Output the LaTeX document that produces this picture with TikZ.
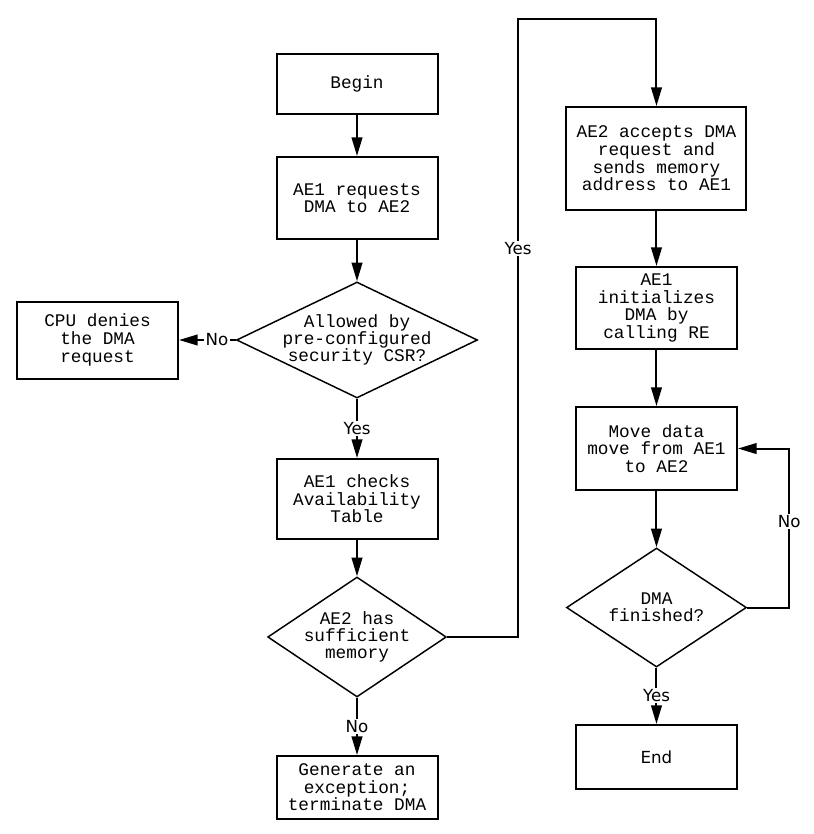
\documentclass[tikz,border=0pt]{standalone}
\usepackage{fontspec}
\setmainfont{DejaVu Sans}
\newfontfamily\monofont{Liberation Mono}
\usetikzlibrary{shapes.geometric,arrows.meta,positioning}

\tikzstyle{block}=[rectangle, draw=black, line width=1.5pt, align=center, inner sep=0pt,
  minimum width=120.75pt, font=\monofont\fontsize{13.3}{13.2}\selectfont]
\tikzstyle{decision}=[diamond, draw=black, line width=1.1pt, inner sep=0pt]
\tikzstyle{dtext}=[align=center, inner sep=0pt, font=\monofont\fontsize{13.3}{12.8}\selectfont]
\tikzstyle{line}=[line width=1.5pt, -{Triangle[length=14pt,width=8pt]}]
\tikzstyle{lbl}=[fill=white, inner sep=1pt, font=\fontsize{12.5}{14}\selectfont]

\begin{document}
\begin{tikzpicture}

\useasboundingbox (0,0) rectangle (609.75pt,-625.5pt);

\node [block, minimum height=45pt] (begin) at (267.75pt,-63pt) {Begin};

\node [block, minimum height=61.5pt, below of=begin, node distance=85.5pt] (request) {AE1 requests\\DMA to AE2};
\node [decision, minimum width=180.75pt, minimum height=87pt, below of=request, node distance=106.5pt,
  label={[dtext]center:Allowed by\\pre-configured\\security CSR?}] (allowed) {};
\node [block, minimum height=57.75pt, left of=allowed, node distance=194.6pt] (deny) {CPU denies\\the DMA\\request};
\node [block, minimum height=60pt, below of=allowed, node distance=119.25pt] (check) {AE1 checks\\Availability\\Table};
\node [decision, minimum width=134pt, minimum height=90pt, below of=check, node distance=103.5pt,
  label={[dtext]center:AE2 has\\sufficient\\memory}] (memory) {};
\node [block, minimum height=47.25pt, below of=memory, node distance=112.9pt] (except) {Generate an\\exception;\\terminate DMA};

\node [block, minimum width=135pt, minimum height=77.25pt, right of=begin, node distance=224.6pt, yshift=-55.9pt] (accept) {AE2 accepts DMA\\request and\\sends memory\\address to AE1};
\node [block, minimum height=61.5pt, below of=accept, node distance=112.1pt] (init) {AE1\\initializes\\DMA by\\calling RE};
\node [block, minimum height=62.25pt, below of=init, node distance=105.4pt] (move) {Move data\\move from AE1\\to AE2};
\node [decision, minimum width=135pt, minimum height=89.25pt, below of=move, node distance=119.25pt,
  label={[dtext]center:DMA\\finished?}] (finished) {};
\node [block, minimum height=48pt, below of=finished, node distance=112.1pt, font=\fontsize{12.5}{14}\selectfont] (end) {End};

\coordinate [above=65.25pt of accept.north] (yestop);

\path [line] (begin) edge (request)
             (request) edge (allowed)
             (allowed) edge node[lbl, pos=0.33] {No} (deny)
             (allowed) edge node[lbl] {Yes} (check)
             (check) edge (memory)
             (memory) edge node[lbl] {No} (except)
             (accept) edge (init)
             (init) edge (move)
             (move) edge (finished)
             (finished) edge node[lbl] {Yes} (end);

\draw [line] (memory.east) -- ++(53.25pt,0) |- node[lbl, pos=0.314] {Yes} (yestop) -- (accept.north);
\draw [line] (finished.east) -- ++(31.5pt,0) |- node[lbl, pos=0.27] {No} (move.east);
\end{tikzpicture}
\end{document}
